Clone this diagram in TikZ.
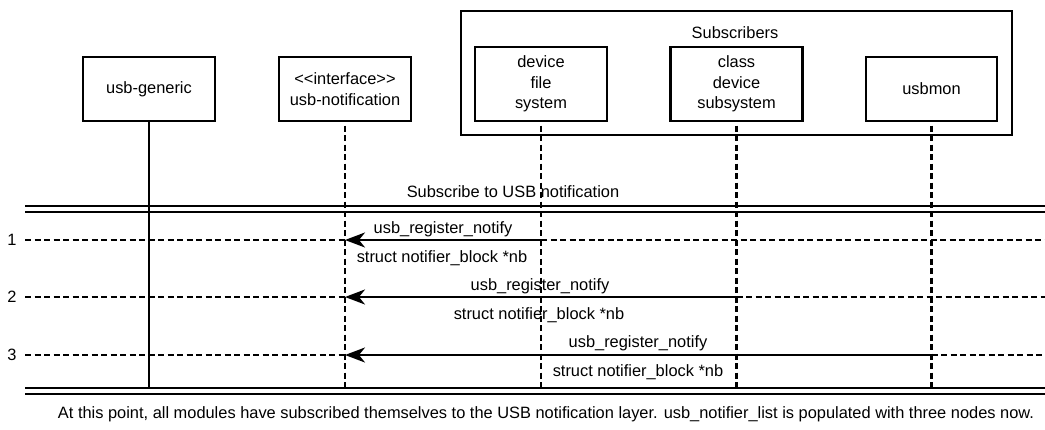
\documentclass[tikz,border=0pt]{standalone}
\usepackage{fontspec}
\setmainfont{Liberation Sans}
\usetikzlibrary{arrows.meta}
\tikzset{
  lbl/.style={font=\fontsize{16.4}{20.5}\selectfont, inner sep=0pt},
  actor/.style={draw, line width=2.4pt, align=center, font=\fontsize{16.4}{20.5}\selectfont, inner sep=0pt},
  life/.style={line width=2.2pt, dash pattern=on 6pt off 3.5pt, dash phase=6pt},
  solidlife/.style={line width=2.4pt},
  dotted msg/.style={line width=2.2pt, dash pattern=on 6pt off 3.5pt},
  msg/.style={line width=2.2pt, -{Stealth[length=20pt,width=15pt,inset=6pt]}},
  frame/.style={line width=2.2pt}
}
\begin{document}
\begin{tikzpicture}[x=1pt,y=-1pt]
\useasboundingbox (0,0) rectangle (1045,429);
% Subscribers group
\node[draw, line width=2.2pt, minimum width=551pt, minimum height=124pt, inner sep=0pt] (subs) at (736.5,73) {};
\node[lbl, anchor=base] (subst) at (735,38) {Subscribers};
% actors
\node[actor, minimum width=132pt, minimum height=64pt] (ug) at (149,89) {usb-generic};
\node[actor, minimum width=132pt, minimum height=64pt] (un) at (345,89) {<{}<interface>{}>\\usb-notification};
\node[actor, minimum width=132pt, minimum height=74pt] (dfs) at (541,84) {device\\file\\system};
\node[actor, minimum width=132pt, minimum height=74pt] (cds) at (736.5,84) {class\\device\\subsystem};
\node[actor, minimum width=131pt, minimum height=64pt] (um) at (931.5,89) {usbmon};
% lifeline ends
\coordinate (ugE) at (149,388);
\coordinate (unE) at (345,388);
\coordinate (dfsE) at (541,388);
\coordinate (cdsE) at (736.5,388);
\coordinate (umE) at (931.5,388);
% frame lines
\coordinate (tl1) at (25,206); \coordinate (tr1) at (1045,206);
\coordinate (tl2) at (25,212); \coordinate (tr2) at (1045,212);
\coordinate (bl1) at (25,388); \coordinate (br1) at (1045,388);
\coordinate (bl2) at (25,394); \coordinate (br2) at (1045,394);
\draw[frame] (tl1) -- (tr1);
\draw[frame] (tl2) -- (tr2);
\draw[frame] (bl1) -- (br1);
\draw[frame] (bl2) -- (br2);
\node[lbl, anchor=base] (ftitle) at (513,197) {Subscribe to USB notification};
% lifelines
\draw[solidlife] (ug.south) -- (ugE);
\draw[life] (un.south) -- (unE);
\draw[life] (dfs.south) -- (dfsE);
\draw[life] (cds.south) -- (cdsE);
\draw[life] (um.south) -- (umE);
% message rows
\coordinate (s1) at (25,240); \coordinate (e1) at (1045,240);
\coordinate (s2) at (25,297); \coordinate (e2) at (1045,297);
\coordinate (s3) at (25,355); \coordinate (e3) at (1045,355);
\coordinate (un1) at (345,240); \coordinate (dfs1) at (541,240);
\coordinate (un2) at (345,297); \coordinate (cds2) at (736.5,297);
\coordinate (un3) at (345,355); \coordinate (um3) at (931.5,355);
\node[lbl, anchor=base] (n1) at (12,245) {1};
\node[lbl, anchor=base] (n2) at (12,302) {2};
\node[lbl, anchor=base] (n3) at (12,360) {3};
\draw[dotted msg] (s1) -- (un1);
\draw[dotted msg] (dfs1) -- (e1);
\draw[dotted msg] (s2) -- (un2);
\draw[dotted msg] (cds2) -- (e2);
\draw[dotted msg] (s3) -- (un3);
\draw[dotted msg] (um3) -- (e3);
\draw[msg] (dfs1) -- (un1);
\draw[msg] (cds2) -- (un2);
\draw[msg] (um3) -- (un3);
\node[lbl, anchor=base] (a1) at (443,233) {usb\_register\_notify};
\node[lbl, anchor=base] (b1) at (442,262) {struct notifier\_block *nb};
\node[lbl, anchor=base] (a2) at (540,290) {usb\_register\_notify};
\node[lbl, anchor=base] (b2) at (539,319) {struct notifier\_block *nb};
\node[lbl, anchor=base] (a3) at (638,347) {usb\_register\_notify};
\node[lbl, anchor=base] (b3) at (638,376) {struct notifier\_block *nb};
% caption
\node[lbl, anchor=base] (cap) at (546,418) {At this point, all modules have subscribed themselves to the USB notification layer. usb\_notifier\_list is populated with three nodes now.};
\end{tikzpicture}
\end{document}
